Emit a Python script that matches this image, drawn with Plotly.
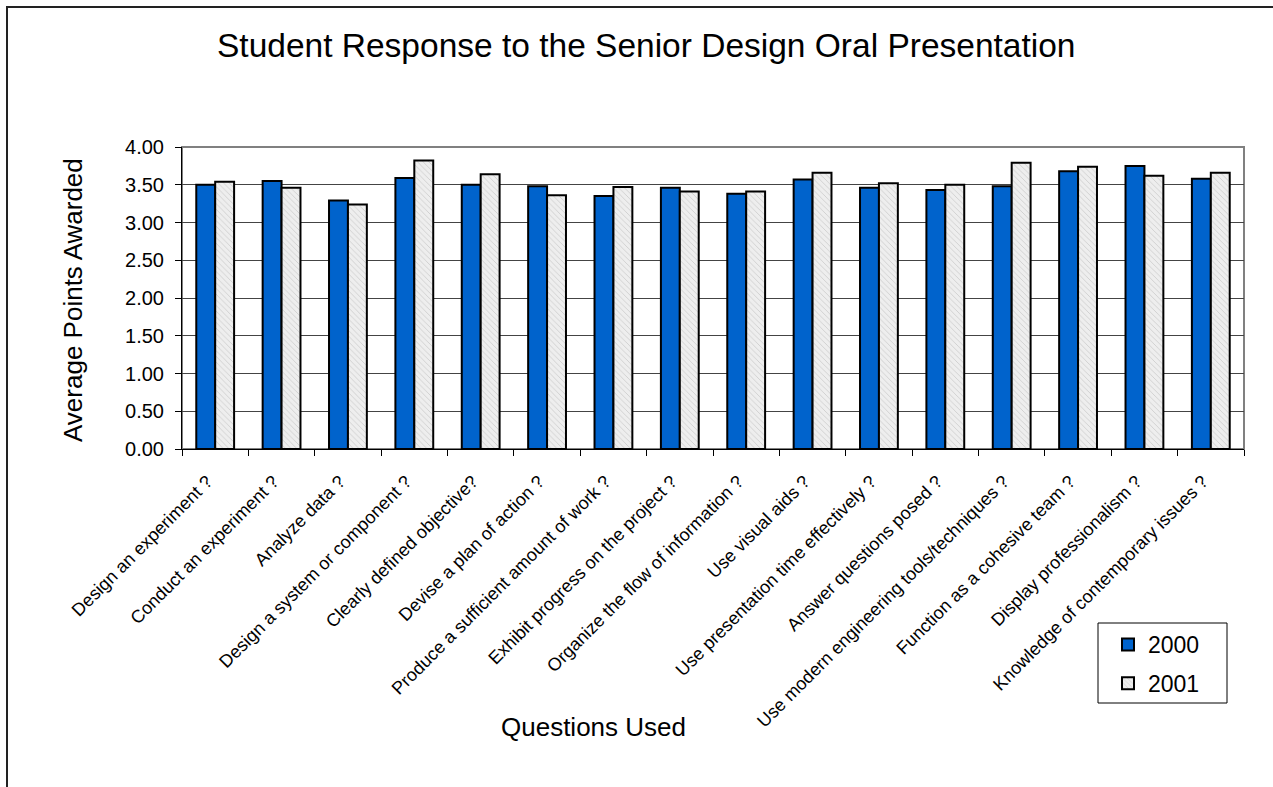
import plotly.graph_objects as go

# Survey questions (x categories)
questions = [
    "Design an experiment ?",
    "Conduct an experiment ?",
    "Analyze data ?",
    "Design a system or component ?",
    "Clearly defined objective?",
    "Devise a plan of action ?",
    "Produce a sufficient amount of work ?",
    "Exhibit progress on the project ?",
    "Organize the flow of information ?",
    "Use visual aids ?",
    "Use presentation time effectively ?",
    "Answer questions posed ?",
    "Use modern engineering tools/techniques ?",
    "Function as a cohesive team ?",
    "Display professionalism ?",
    "Knowledge of contemporary issues ?",
]

# Average points awarded per question
scores_2000 = [3.50, 3.55, 3.29, 3.59, 3.50, 3.48, 3.35, 3.46,
               3.38, 3.57, 3.46, 3.43, 3.48, 3.68, 3.75, 3.58]
scores_2001 = [3.54, 3.46, 3.24, 3.82, 3.64, 3.36, 3.47, 3.41,
               3.41, 3.66, 3.52, 3.50, 3.79, 3.74, 3.62, 3.66]

y_ticks = [0, 0.5, 1.0, 1.5, 2.0, 2.5, 3.0, 3.5, 4.0]

W, H = 1273, 787
L, R, T, B = 182, 29, 147, 338
PW, PH = W - L - R, H - T - B

def px(x):
    return (x - L) / PW

def py(y):
    return (H - B - y) / PH

FONT = "Liberation Sans, Arial, sans-serif"

fig = go.Figure()
fig.add_trace(go.Bar(
    name="2000", x=questions, y=scores_2000,
    marker=dict(color="#0063CC", line=dict(color="#000000", width=2)),
    legendgroup="a",
))
fig.add_trace(go.Bar(
    name="2001", x=questions, y=scores_2001,
    marker=dict(
        color="#e6e6e6",
        line=dict(color="#000000", width=2),
        pattern=dict(shape="\\", fgcolor="#a8a8a8", bgcolor="#eeeeee",
                     size=4, solidity=0.2),
    ),
    legendgroup="b",
))

fig.update_layout(
    width=W, height=H,
    margin=dict(l=L, r=R, t=T, b=B, autoexpand=False),
    paper_bgcolor="white", plot_bgcolor="white",
    barmode="group", bargap=0.43, bargroupgap=0.0,
    font=dict(family=FONT, color="#000000"),
    showlegend=True,
    legend=dict(
        x=px(1108), y=py(623), xanchor="left", yanchor="top",
        bgcolor="rgba(0,0,0,0)", borderwidth=0,
        font=dict(size=23, family=FONT), tracegroupgap=6,
        itemwidth=30,
    ),
    xaxis=dict(
        tickangle=-45, tickfont=dict(size=18, family=FONT),
        showline=True, linecolor="#000000", linewidth=1,
        ticks="outside", ticklen=6, tickcolor="#000000",
        showgrid=False, tickson="boundaries",
        ticklabelstandoff=14, ticklabelshift=-8,
    ),
    yaxis=dict(
        range=[0, 4.0], tickvals=y_ticks,
        ticktext=[f"{v:.2f}" for v in y_ticks],
        tickfont=dict(size=20, family=FONT),
        showline=True, linecolor="#000000", linewidth=1,
        ticks="outside", ticklen=6, tickcolor="#000000",
        ticklabelstandoff=7,
        showgrid=True, gridcolor="#444444", gridwidth=1,
        zeroline=False,
    ),
    shapes=[
        # plot area frame
        dict(type="rect", xref="paper", yref="paper", x0=0, x1=1, y0=0, y1=1,
             line=dict(color="#808080", width=2), layer="below"),
        # outer chart frame
        dict(type="rect", xref="paper", yref="paper",
             x0=px(7), x1=px(1290), y0=py(800), y1=py(7),
             line=dict(color="#222222", width=2)),
        # legend box
        dict(type="rect", xref="paper", yref="paper",
             x0=px(1098), x1=px(1227), y0=py(703), y1=py(623),
             line=dict(color="#000000", width=1), fillcolor="white",
             layer="above"),
    ],
    annotations=[
        dict(text="Student Response to the Senior Design Oral Presentation",
             xref="paper", yref="paper", x=px(646), y=py(45),
             xanchor="center", yanchor="middle", showarrow=False,
             font=dict(size=33.5, family=FONT)),
        dict(text="Average Points Awarded", xref="paper", yref="paper",
             x=px(73), y=py(300), xanchor="center", yanchor="middle",
             textangle=-90, showarrow=False, font=dict(size=26, family=FONT)),
        dict(text="Questions Used", xref="paper", yref="paper",
             x=px(593), y=py(727), xanchor="center", yanchor="middle",
             showarrow=False, font=dict(size=26, family=FONT)),
    ],
)

fig.write_html("out.html")
